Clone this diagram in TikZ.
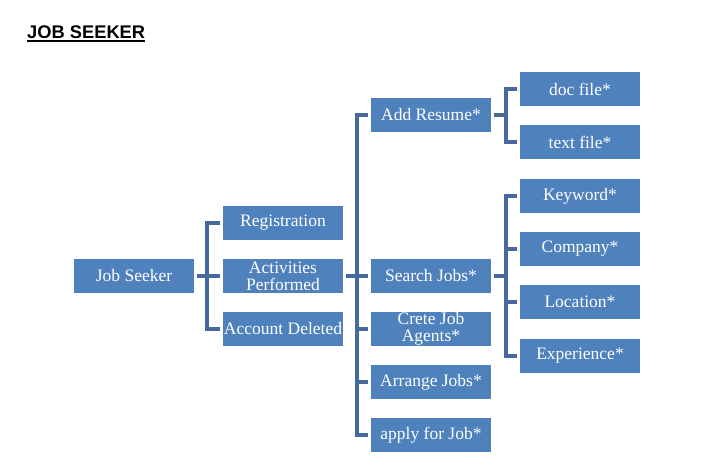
\documentclass[tikz,border=0pt]{standalone}
\usepackage{fontspec}
\setmainfont{Liberation Serif}
\newfontfamily\titlefont{Liberation Sans}
\definecolor{boxblue}{HTML}{4F81BD}
\definecolor{linkblue}{HTML}{46699E}

\begin{document}
\begin{tikzpicture}[x=1pt, y=-1pt,
    box/.style={rectangle, fill=boxblue, text=white, minimum width=120pt, minimum height=34pt, inner sep=0pt, outer sep=3pt, align=center, font=\fontsize{17.5}{17}\selectfont},
    link/.style={draw=linkblue, line width=4pt}]
    \useasboundingbox (0,0) rectangle (703,471);
    \node[anchor=base west, inner sep=0pt, font=\titlefont\bfseries\fontsize{18.3}{18}\selectfont] (title) at (27,38) {JOB SEEKER};
    \draw[line width=2pt] ([yshift=-3pt]title.base west) -- ([yshift=-3pt]title.base east);
    % first level
    \node[box] (js) at (134,276) {Job Seeker};
    \node[box] (reg) at (283,223) {Registration};
    \node[box] (act) at (283,276) {Activities\\Performed};
    \node[box] (del) at (283,329) {Account Deleted};
    % activities
    \node[box] (resume) at (431,115) {Add Resume*};
    \node[box] (search) at (431,276) {Search Jobs*};
    \node[box] (agents) at (431,329) {Crete Job\\Agents*};
    \node[box] (arrange) at (431,382) {Arrange Jobs*};
    \node[box] (apply) at (431,435) {apply for Job*};
    % resume and search options
    \node[box] (doc) at (580,89) {doc file*};
    \node[box] (txt) at (580,142) {text file*};
    \node[box] (key) at (580,196) {Keyword*};
    \node[box] (comp) at (580,249) {Company*};
    \node[box] (loc) at (580,302) {Location*};
    \node[box] (exp) at (580,356) {Experience*};
    \coordinate (b1) at (207,276);
    \coordinate (b2) at (357,276);
    \coordinate (b3) at (506,115);
    \coordinate (b4) at (506,276);
        \draw[link] (js.east) -- (b1);
        \draw[link] (reg.west) -| (b1) |- (del.west);
        \draw[link] (act.west) -- (b1);
        \draw[link] (act.east) -- (b2);
        \draw[link] (resume.west) -| (b2) |- (apply.west);
        \draw[link] (search.west) -- (b2);
        \draw[link] (agents.west) -| (b2);
        \draw[link] (arrange.west) -| (b2);
        \draw[link] (resume.east) -- (b3);
        \draw[link] (doc.west) -| (b3) |- (txt.west);
        \draw[link] (search.east) -- (b4);
        \draw[link] (key.west) -| (b4) |- (exp.west);
        \draw[link] (comp.west) -| (b4);
        \draw[link] (loc.west) -| (b4);
\end{tikzpicture}
\end{document}
